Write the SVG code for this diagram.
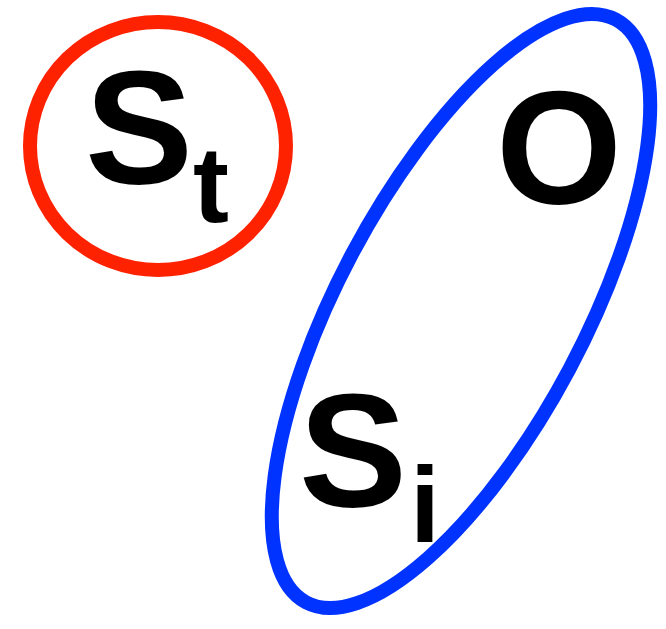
<svg xmlns="http://www.w3.org/2000/svg" width="666" height="629" viewBox="0 0 666 629">
<style>
.lbl{font-family:"Liberation Sans",Arial,sans-serif;font-weight:bold;fill:#000}
.big{font-size:162px}
.sub{font-size:108px}
</style>
<rect width="666" height="629" fill="#fff"/>
<g id="red-group">
<ellipse cx="158" cy="146" rx="128" ry="124" fill="none" stroke="#ff2200" stroke-width="14"/>
<text class="lbl big" x="85" y="183">S</text>
<text class="lbl sub" x="193" y="222">t</text>
</g>
<g id="blue-group">
<ellipse cx="461" cy="311" rx="330" ry="123" transform="rotate(-62 461 311)" fill="none" stroke="#0033ff" stroke-width="14"/>
<text class="lbl big" x="496" y="203">O</text>
<text class="lbl big" x="299" y="506">S</text>
<text class="lbl sub" x="410" y="542">i</text>
</g>
</svg>
